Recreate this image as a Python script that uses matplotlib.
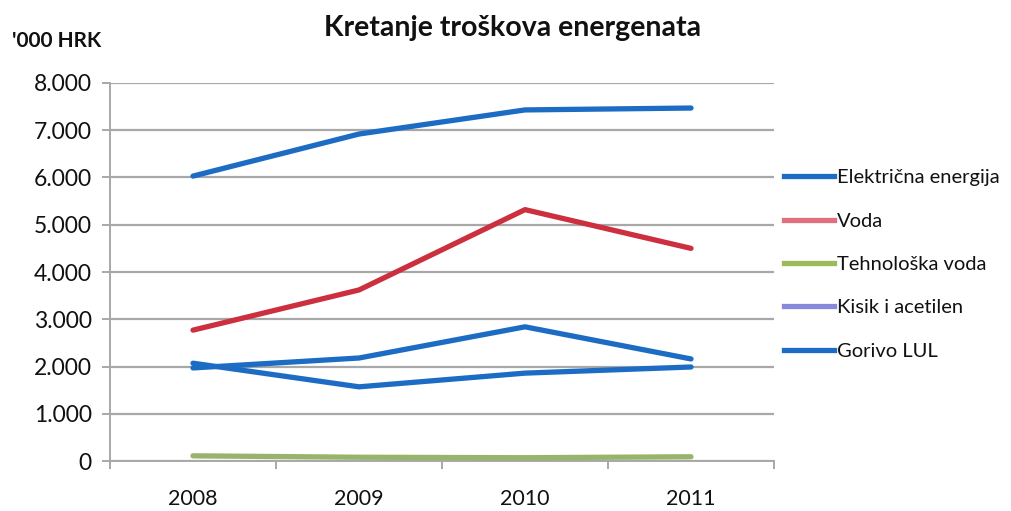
import matplotlib
matplotlib.use("Agg")
import matplotlib.pyplot as plt
from matplotlib.lines import Line2D
import numpy as np

plt.rcParams['font.family'] = ['Lato', 'DejaVu Sans']

years = ["2008", "2009", "2010", "2011"]
series_names = ["Električna energija", "Voda", "Tehnološka voda", "Kisik i acetilen", "Gorivo LUL"]
elektricna = [6030, 6920, 7430, 7470]
voda = [2770, 3620, 5320, 4500]
tehnoloska = [110, 80, 70, 90]
kisik = [2070, 1570, 1860, 1990]
gorivo = [1970, 2180, 2840, 2160]
values = [elektricna, voda, tehnoloska, kisik, gorivo]

line_colors = ["#1d6cc4", "#cc2f3e", "#98b46c", "#1d6cc4", "#1d6cc4"]
legend_colors = ["#1d6cc4", "#e07080", "#9bbb59", "#8888dd", "#1d6cc4"]
yticks = [0, 1000, 2000, 3000, 4000, 5000, 6000, 7000, 8000]

fig = plt.figure(figsize=(10.11, 5.11), dpi=100)
ax = fig.add_axes([0.1088, 0.0978, 0.6568, 0.7398])

x = np.arange(len(years))
for vals, c in zip(values, line_colors):
    ax.plot(x, vals, color=c, lw=3.8, solid_capstyle='round', zorder=3)

ax.set_xlim(-0.5, len(years) - 0.5)
ax.set_ylim(0, 8000)
ax.set_yticks(yticks)
ax.set_yticklabels([f"{v:,}".replace(",", ".") for v in yticks], fontsize=16.5,
                   color="#111111")
ax.set_xticks(x)
ax.set_xticklabels(years, fontsize=15.5, color="#111111")
ax.tick_params(axis='x', length=0, pad=20)
ax.tick_params(axis='y', length=6, color="#999999", width=1.2, pad=7)
ax.set_xticks(np.arange(-0.5, len(years)), minor=True)
ax.tick_params(axis='x', which='minor', length=6, color="#999999", width=1.2)

ax.grid(axis='y', color="#a8a8a8", lw=1.6, zorder=1)
for s in ["top", "right"]:
    ax.spines[s].set_visible(False)
for s in ["left", "bottom"]:
    ax.spines[s].set_color("#a8a8a8")
    ax.spines[s].set_linewidth(1.4)

handles = [Line2D([0], [0], color=c, lw=3.8) for c in legend_colors]
leg = ax.legend(handles, series_names, loc='center left', bbox_to_anchor=(0.987, 0.52),
                frameon=False, fontsize=14.5, handlelength=2.5, handletextpad=0.15,
                labelspacing=1.3)
for t in leg.get_texts():
    t.set_color("#111111")

fig.text(0.507, 0.945, "Kretanje troškova energenata", ha='center', va='center',
         fontsize=20.5, fontweight='bold', color="#111111")
fig.text(0.012, 0.92, "'000 HRK", ha='left', va='center', fontsize=15,
         fontweight='bold', color="#111111")

fig.savefig("out.png", dpi=100)
